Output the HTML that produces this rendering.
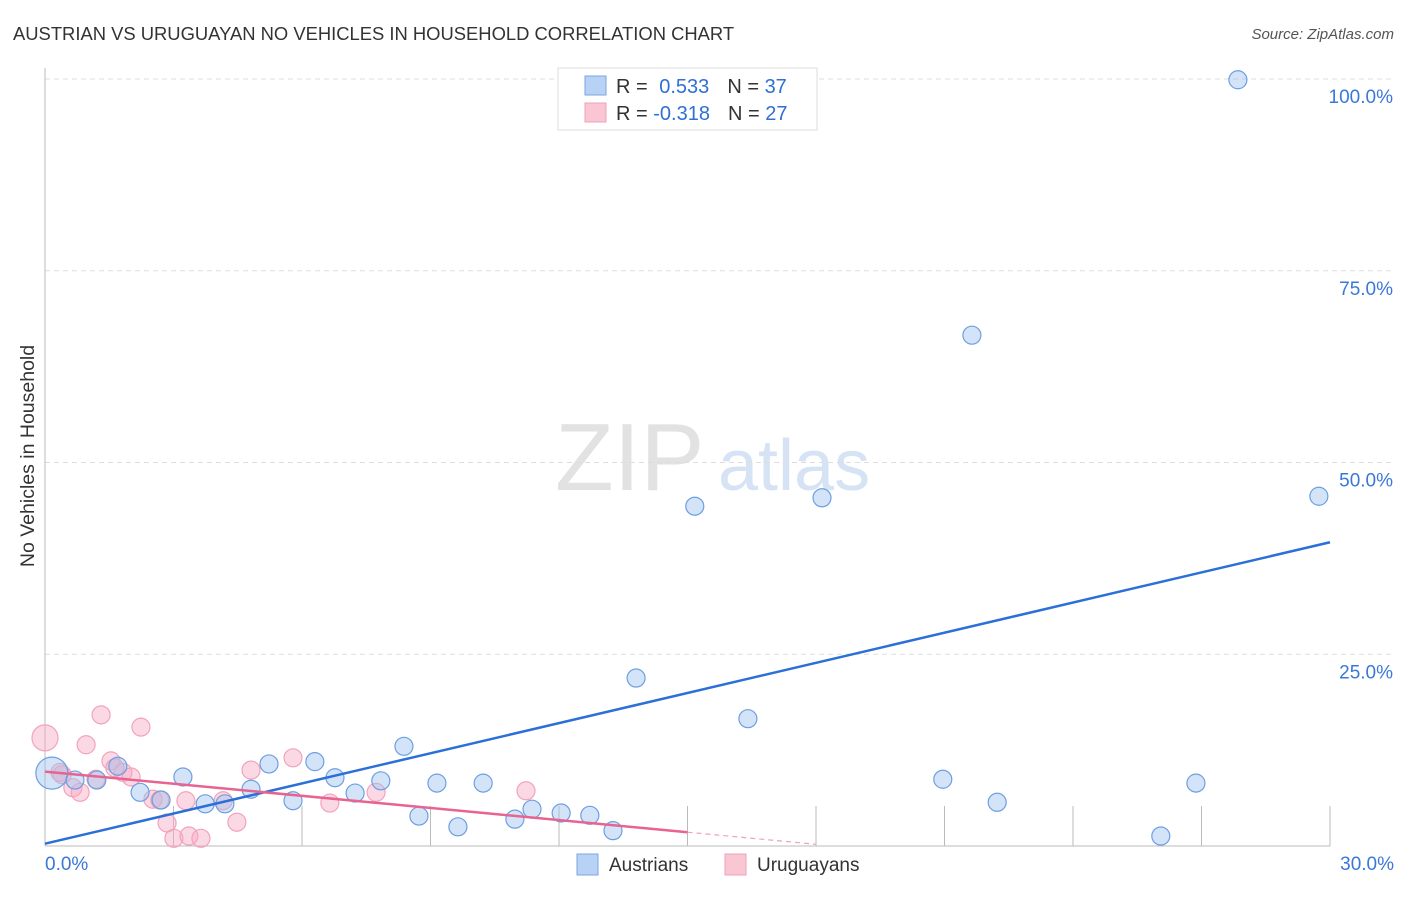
<!DOCTYPE html>
<html><head><meta charset="utf-8"><style>
body{margin:0;background:#fff;font-family:"Liberation Sans",sans-serif;}
svg text{font-family:"Liberation Sans",sans-serif;}
</style></head><body>
<svg id="c" width="1406" height="892" xmlns="http://www.w3.org/2000/svg">
<text x="13" y="40" font-size="18.4" fill="#333">AUSTRIAN VS URUGUAYAN NO VEHICLES IN HOUSEHOLD CORRELATION CHART</text>
<text x="1394" y="39" font-size="15" fill="#555" font-style="italic" text-anchor="end">Source: ZipAtlas.com</text>
<text transform="translate(34,456) rotate(-90)" font-size="19.5" fill="#333" text-anchor="middle">No Vehicles in Household</text>
<text x="555" y="490" font-size="96" fill="#e2e2e2" font-family="Liberation Serif">ZIP</text>
<text x="718" y="490" font-size="72" fill="#d5e3f5">atlas</text>
<g id="grid"></g><g id="pts"></g><g id="lines"></g>
<g>
<rect x="558" y="68" width="259" height="62" fill="#fff" stroke="#ddd"/>
<rect x="585" y="76" width="21" height="19" fill="#b8d2f5" stroke="#7aa6e0"/>
<rect x="585" y="103" width="21" height="19" fill="#f9c6d4" stroke="#f0a0b8"/>
<text x="616" y="93" font-size="20" fill="#333">R = <tspan fill="#2f6fd6" dx="6">0.533</tspan><tspan fill="#333" dx="18">N = </tspan><tspan fill="#2f6fd6">37</tspan></text>
<text x="616" y="120" font-size="20" fill="#333">R = <tspan fill="#2f6fd6">-0.318</tspan><tspan fill="#333" dx="18">N = </tspan><tspan fill="#2f6fd6">27</tspan></text>
</g>
<g>
<rect x="577" y="854" width="21" height="21" fill="#b8d2f5" stroke="#7aa6e0"/>
<text x="609" y="871" font-size="19" fill="#333">Austrians</text>
<rect x="725" y="854" width="21" height="21" fill="#f9c6d4" stroke="#f0a0b8"/>
<text x="757" y="871" font-size="19" fill="#333">Uruguayans</text>
</g>
</svg>
<script>
const blueX=[0.16,0.70,1.21,1.70,2.22,2.71,3.22,3.74,4.20,4.81,5.23,5.79,6.30,6.77,7.24,7.84,8.38,8.73,9.15,9.64,10.23,10.97,11.37,12.05,12.72,13.26,13.80,15.17,16.41,18.14,20.96,21.64,22.23,26.05,26.87,27.85,29.74];
const blueY=[9.5,8.6,8.6,10.4,7.0,6.0,9.0,5.5,5.5,7.4,10.7,5.9,11.0,8.9,6.9,8.5,13.0,3.9,8.2,2.5,8.2,3.5,4.8,4.3,4.0,2.0,21.9,44.3,16.6,45.4,8.7,66.6,5.7,1.3,8.2,99.9,45.6];
const pinkX=[0.0,0.35,0.96,1.31,0.65,0.82,1.19,1.54,1.82,2.01,2.24,2.52,2.85,3.01,3.29,3.36,3.64,4.16,4.48,4.81,5.79,6.65,7.73,11.23,1.63,2.68,0.40];
const pinkY=[14.1,9.6,13.2,17.1,7.6,7.0,8.7,11.1,9.6,9.0,15.5,6.1,3.0,1.0,5.9,1.3,1.0,5.9,3.1,9.9,11.5,5.6,7.0,7.2,10.2,6.0,9.3];
const yTicks=[25,50,75,100];
const yTickLabels=["25.0%","50.0%","75.0%","100.0%"];
const blueFit=[0.3,39.6];
const pinkFit=[9.7,1.8];
const pinkFitEnd=15;
const NS="http://www.w3.org/2000/svg";
const X0=45,X1=1330,Y0=846,Y100=79;
const sx=v=>X0+v/30*(X1-X0);
const sy=v=>Y0-v/100*(Y0-Y100);
function mk(t,a,p){const e=document.createElementNS(NS,t);for(const k in a)e.setAttribute(k,a[k]);p.appendChild(e);return e;}
const g=document.getElementById('grid');
yTicks.forEach((t,i)=>{
 const l=mk('line',{x1:X0,x2:1394,y1:sy(t),y2:sy(t),stroke:'#ddd','stroke-dasharray':'5,4'},g);
 
 
 const tx=mk('text',{x:1393,y:sy(t)+24,'font-size':19,fill:'#3a78d8','text-anchor':'end'},g);
 tx.textContent=yTickLabels[i];
 
 
});
let ax=mk('line',{x1:X0,x2:X0,y1:68,y2:Y0,stroke:'#bbb'},g);


ax=mk('line',{x1:X0,x2:X1,y1:Y0,y2:Y0,stroke:'#bbb'},g);


for(let i=1;i<=10;i++){
 const x=sx(i*3);
 const t=mk('line',{x1:x,x2:x,y1:Y0-40,y2:Y0,stroke:'#bbb'},g);
 
 
}
let xl=mk('text',{x:45,y:870,'font-size':19,fill:'#3a78d8'},g);xl.textContent='0.0%';


xl=mk('text',{x:1394,y:870,'font-size':19,fill:'#3a78d8','text-anchor':'end'},g);xl.textContent='30.0%';


const p=document.getElementById('pts');
pinkX.forEach((x,i)=>{
 const c=mk('circle',{cx:sx(x),cy:sy(pinkY[i]),r:i==0?13:9,fill:'rgba(246,170,195,0.45)',stroke:'#f2a3bb','stroke-width':1.2},p);
 
 
});
blueX.forEach((x,i)=>{
 const c=mk('circle',{cx:sx(x),cy:sy(blueY[i]),r:i==0?16:9,fill:'rgba(160,195,240,0.45)',stroke:'#6c9fe2','stroke-width':1.2},p);
 
 
});
const L=document.getElementById('lines');
let ln=mk('line',{x1:sx(0),y1:sy(blueFit[0]),x2:sx(30),y2:sy(blueFit[1]),stroke:'#2b6fd8','stroke-width':2.5},L);


const pv=x=>pinkFit[0]+(pinkFit[1]-pinkFit[0])*x/pinkFitEnd;
ln=mk('line',{x1:sx(0),y1:sy(pv(0)),x2:sx(pinkFitEnd),y2:sy(pv(pinkFitEnd)),stroke:'#e8638f','stroke-width':2.5},L);


ln=mk('line',{x1:sx(pinkFitEnd),y1:sy(pv(pinkFitEnd)),x2:sx(18),y2:sy(pv(18)),stroke:'#f0a0b8','stroke-width':1.2,'stroke-dasharray':'5,4'},L);


</script>
</body></html>
